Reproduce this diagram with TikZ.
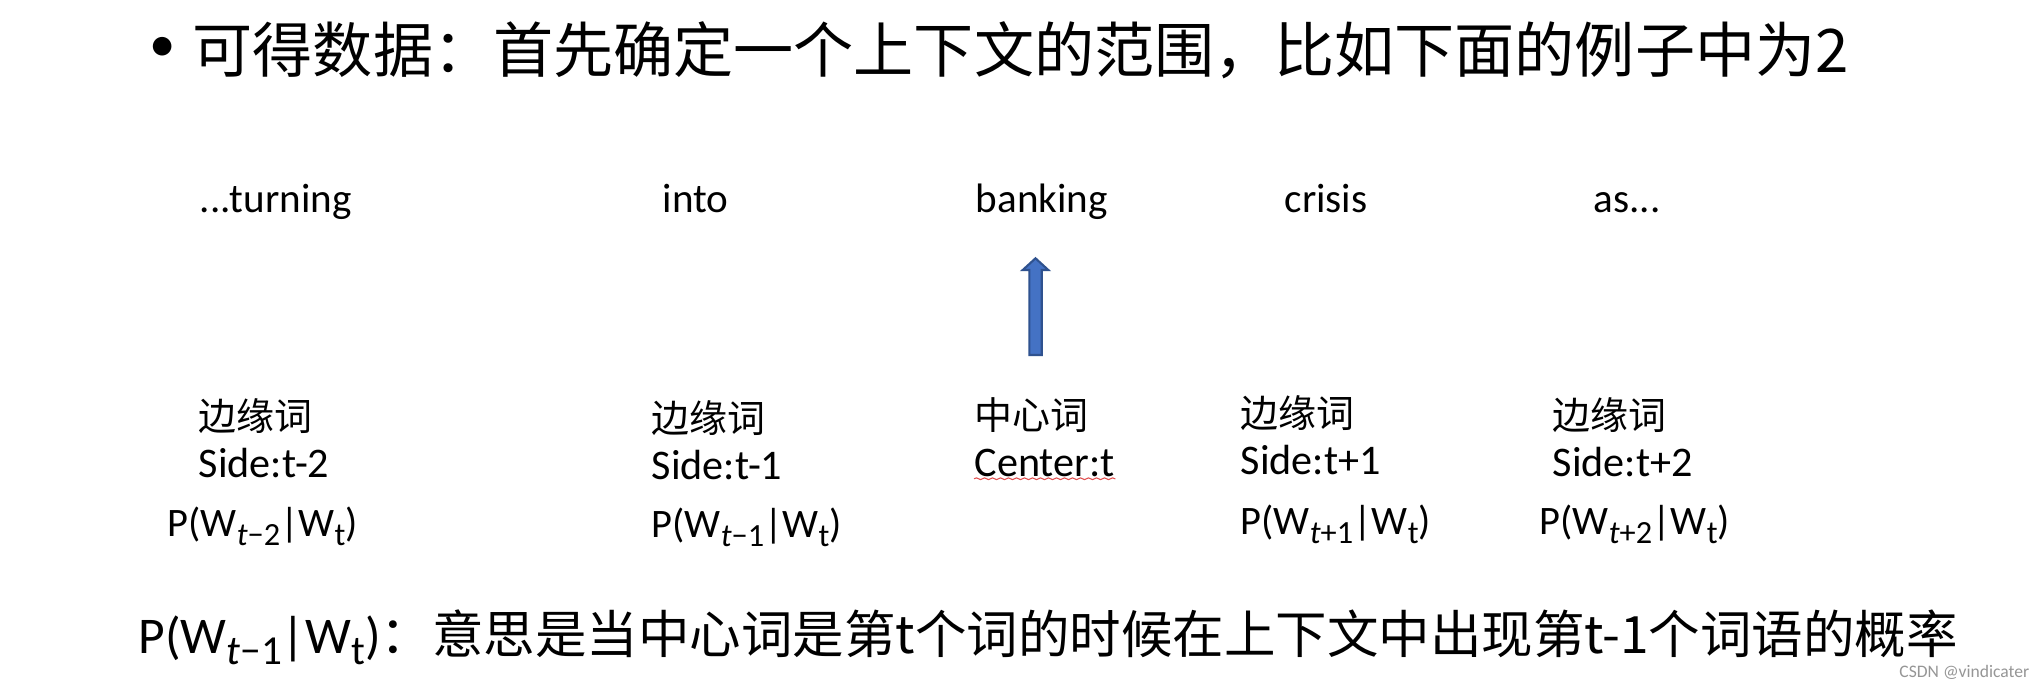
\documentclass[tikz,border=0pt]{standalone}
\usepackage{fontspec}
\setmainfont{Carlito}
\newfontfamily\cjk{Noto Sans CJK SC}
\usepackage{graphicx}
\usepackage{tikz}
\usetikzlibrary{positioning,decorations.pathmorphing}
\definecolor{blocfill}{HTML}{4472C4}
\definecolor{blocdraw}{HTML}{2F528F}
\definecolor{markC}{RGB}{150,150,150}
\definecolor{spellC}{RGB}{225,80,80}
\newcommand{\sbs}[1]{\raisebox{-0.45ex}{\scalebox{0.8}{#1}}}
\newcommand{\pw}[1]{P(W\sbs{#1}|W\sbs{t})}
\tikzset{
  word/.style={anchor=base west, inner sep=0pt, font=\fontsize{11.7pt}{14pt}\selectfont},
  tag/.style={anchor=west, inner sep=0pt, font=\cjk\fontsize{10.8pt}{13pt}\selectfont},
  side/.style={anchor=north west, inner sep=0pt, font=\fontsize{12pt}{14pt}\selectfont},
  prob/.style={anchor=west, inner sep=0pt, font=\fontsize{11.5pt}{14pt}\selectfont},
}

\begin{document}
\begin{tikzpicture}
\fill[white] (0,0) rectangle (20.44,-6.86);
\useasboundingbox (0,0) rectangle (20.44,-6.86);
% title line
\node[inner sep=0pt, font=\fontsize{15pt}{17pt}\selectfont] (bul) at (1.625,-0.49) {•};
\node[anchor=west, inner sep=0pt, font=\cjk\fontsize{17.1pt}{20pt}\selectfont] (title) at (1.92,-0.50) {可得数据：首先确定一个上下文的范围，比如下面的例子中为2};
% sentence
\node[word] (w1) at (1.99,-2.12) {...turning};
\node[word] (w2) at (6.62,-2.12) {into};
\node[word] (w3) at (9.75,-2.12) {banking};
\node[word] (w4) at (12.84,-2.12) {crisis};
\node[word] (w5) at (15.93,-2.12) {as...};
% centre arrow
\draw[blocdraw, fill=blocfill, line width=0.6pt, line join=miter] (10.293,-3.55) -- (10.293,-2.70) -- (10.227,-2.70) -- (10.355,-2.583) -- (10.483,-2.70) -- (10.417,-2.70) -- (10.417,-3.55) -- cycle;
% labels
\node[tag] (c1) at (1.98,-4.16) {边缘词};
\node[side, below=1.3mm of c1.south west, anchor=north west] (s1) {Side:t-2};
\node[prob] (p1) at (1.67,-5.26) {\pw{\textit{t}−2}};
\node[tag] (c2) at (6.51,-4.18) {边缘词};
\node[side, below=1.3mm of c2.south west, anchor=north west] (s2) {Side:t-1};
\node[prob] (p2) at (6.51,-5.27) {\pw{\textit{t}−1}};
\node[tag] (c3) at (9.74,-4.15) {中心词};
\node[side, below=1.5mm of c3.south west, anchor=north west] (s3) {Center:t};
\draw[spellC, line width=0.3pt, decorate, decoration={snake, amplitude=0.25pt, segment length=0.8mm}] ([yshift=-0.25mm]s3.base west) -- ([yshift=-0.25mm]s3.base east);
\node[tag] (c4) at (12.40,-4.13) {边缘词};
\node[side, below=1.3mm of c4.south west, anchor=north west] (s4) {Side:t+1};
\node[prob] (p4) at (12.40,-5.24) {\pw{\textit{t}+1}};
\node[tag] (c5) at (15.52,-4.15) {边缘词};
\node[side, below=1.3mm of c5.south west, anchor=north west] (s5) {Side:t+2};
\node[prob] (p5) at (15.39,-5.24) {\pw{\textit{t}+2}};
% explanation
\node[anchor=west, inner sep=0pt, font=\fontsize{14.65pt}{18pt}\selectfont] (note) at (1.38,-6.37) {\pw{\textit{t}−1}{\cjk ：意思是当中心词是第t个词的时候在上下文中出现第t-1个词语的概率}};
\node[anchor=east, inner sep=0pt, font=\fontsize{5pt}{6pt}\selectfont, text=markC] (mark) at (20.30,-6.72) {CSDN @vindicater};
\end{tikzpicture}
\end{document}
